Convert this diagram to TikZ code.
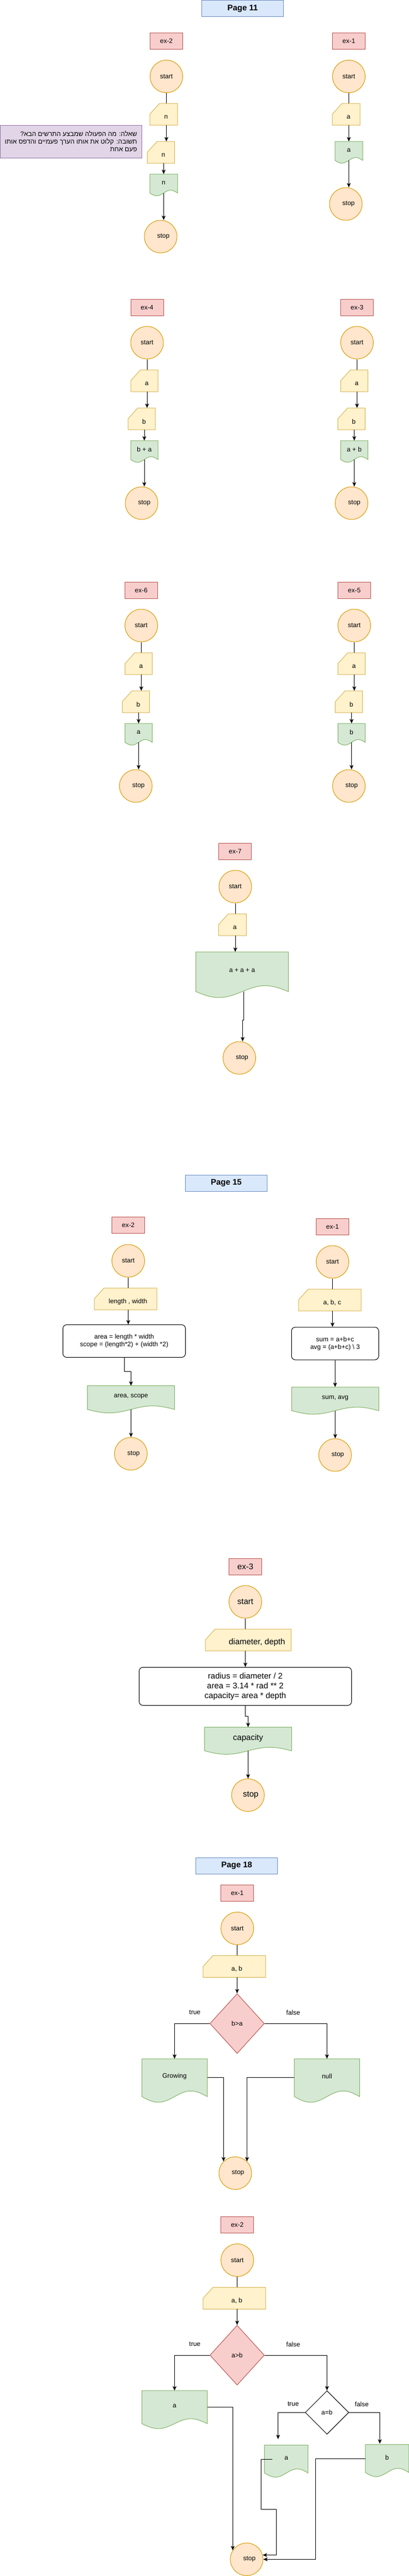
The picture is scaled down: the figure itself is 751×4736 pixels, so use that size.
\documentclass[tikz,border=0pt]{standalone}
\usepackage{fontspec}
\setmainfont{Liberation Sans}
\newfontfamily\hebfont[Script=Hebrew]{Liberation Sans}
\TeXXeTstate=1
\usetikzlibrary{shapes.geometric,arrows.meta}
\definecolor{orfill}{HTML}{FFE6CC}
\definecolor{orline}{HTML}{D79B00}
\definecolor{yefill}{HTML}{FFF2CC}
\definecolor{yeline}{HTML}{D6B656}
\definecolor{grfill}{HTML}{D5E8D4}
\definecolor{grline}{HTML}{82B366}
\definecolor{rdfill}{HTML}{F8CECC}
\definecolor{rdline}{HTML}{B85450}
\definecolor{blfill}{HTML}{DAE8FC}
\definecolor{blline}{HTML}{6C8EBF}
\definecolor{pufill}{HTML}{E1D5E7}
\definecolor{puline}{HTML}{9673A6}
\tikzset{
    term/.style={circle,draw=orline,fill=orfill,minimum size=60,inner sep=0},
    exbox/.style={draw=rdline,fill=rdfill,minimum width=60,minimum height=30,inner sep=0},
    pagebox/.style={draw=blline,fill=blfill,minimum width=150,minimum height=30,font=\bfseries\fontsize{15}{18}\selectfont},
    proc/.style={draw,rounded corners=7,fill=white,align=center,inner sep=0},
    cond/.style={diamond,draw=rdline,fill=rdfill,inner sep=0,minimum width=100,minimum height=110},
    qbox/.style={draw=puline,fill=pufill,align=right,minimum width=260.6,minimum height=60,inner sep=0},
    arr/.style={-{Stealth[length=8pt,width=7pt,inset=2pt]}}
}
%输入框：名称, 中心, 宽, 文字
\newcommand{\incard}[4]{%
    \node[minimum width=#3,minimum height=40,inner sep=0,outer sep=0] (#1) at (#2) {};
    \filldraw[draw=yeline,fill=yefill] (#1.south west) -- ([yshift=-20pt]#1.north west) -- ([xshift=18pt]#1.north west) -- (#1.north east) -- (#1.south east) -- cycle;
    \node (#1t) at ([xshift=4.5pt,yshift=-5pt]#1.center) {#4};
}
%输出框：名称, 上边中点, 宽, 高, 文字
\newcommand{\outdoc}[5]{%
    \node[minimum width=#3,minimum height={0.87*#4},inner sep=0,outer sep=0,anchor=north] (#1) at (#2) {};
    \filldraw[draw=grline,fill=grfill] (#1.south east) -- (#1.north east) -- (#1.north west) -- (#1.south west)
        sin ++({#3/4},{0.13*#4}) cos ++({#3/4},{-0.13*#4}) sin ++({#3/4},{-0.13*#4}) cos ++({#3/4},{0.13*#4}) -- cycle;
    \node (#1t) at ([yshift={-0.4*#4}]#1.north) {#5};
}
\begin{document}
\begin{tikzpicture}[x=1pt,y=-1pt,line width=1pt,font=\fontsize{12}{14}\selectfont]
    \useasboundingbox (0,0) rectangle (751,4736);
    %第11页
    \node[pagebox] (p11) at (445.5,15.5) {Page 11};
    \node[exbox] (e1) at (305.5,75) {ex-2};
    \node[term] (s1) at (305.5,140.5) {start};
    \incard{a1}{300.5,210}{51}{n}
    \incard{b1}{295.5,280}{50}{n}
    \outdoc{o1}{300.5,320}{51}{40}{n}
    \node[term] (z1) at (295,435) {\hspace*{10pt}stop};
    \draw (s1) -- (s1 |- a1.north);
    \draw[arr] (a1.south -| s1) -- (b1.north -| s1);
    \draw[arr] (b1.south -| o1) -- (o1.north);
    \draw[arr] (o1.south) -- (o1.south |- z1.north);
    \node[qbox] (q1) at (130.3,260) {\hebfont\beginR שאלה: מה הפעולה שמבצע התרשים הבא?\endR\\
        \hebfont\beginR תשובה: קלוט את אותו הערך פעמיים והדפס אותו\endR\\
        \hebfont\beginR פעם אחת\endR};

    \node[exbox] (e2) at (640.5,75) {ex-1};
    \node[term] (s2) at (640.5,140.5) {start};
    \incard{a2}{635.5,210}{51}{a}
    \outdoc{o2}{640.5,260}{51}{40}{a}
    \node[term] (z2) at (635,375) {\hspace*{10pt}stop};
    \draw (s2) -- (s2 |- a2.north);
    \draw[arr] (a2.south -| s2) -- (o2.north);
    \draw[arr] (o2.south) -- (o2.south |- z2.north);

    \node[exbox] (e3) at (270,565) {ex-4};
    \node[term] (s3) at (270,630) {start};
    \incard{a3}{265,700}{50}{a}
    \incard{b3}{260,770}{50}{b}
    \outdoc{o3}{265,810}{50}{40}{b + a}
    \node[term] (z3) at (260,925) {\hspace*{10pt}stop};
    \draw (s3) -- (s3 |- a3.north);
    \draw[arr] (a3.south -| s3) -- (b3.north -| s3);
    \draw[arr] (b3.south -| o3) -- (o3.north);
    \draw[arr] (o3.south) -- (o3.south |- z3.north);

    \node[exbox] (e4) at (655.5,565) {ex-3};
    \node[term] (s4) at (655.5,630) {start};
    \incard{a4}{650.5,700}{50}{a}
    \incard{b4}{645.3,770}{50}{b}
    \outdoc{o4}{650.5,810}{50}{40}{a + b}
    \node[term] (z4) at (645.5,925) {\hspace*{10pt}stop};
    \draw (s4) -- (s4 |- a4.north);
    \draw[arr] (a4.south -| s4) -- (b4.north -| s4);
    \draw[arr] (b4.south -| o4) -- (o4.north);
    \draw[arr] (o4.south) -- (o4.south |- z4.north);

    \node[exbox] (e5) at (259.4,1085) {ex-6};
    \node[term] (s5) at (259.4,1150) {start};
    \incard{a5}{254.5,1220}{50}{a}
    \incard{b5}{249.5,1290}{50}{b}
    \outdoc{o5}{254.5,1330}{50}{40}{a}
    \node[term] (z5) at (249.3,1445) {\hspace*{10pt}stop};
    \draw (s5) -- (s5 |- a5.north);
    \draw[arr] (a5.south -| s5) -- (b5.north -| s5);
    \draw[arr] (b5.south -| o5) -- (o5.north);
    \draw[arr] (o5.south) -- (o5.south |- z5.north);

    \node[exbox] (e6) at (650.5,1085) {ex-5};
    \node[term] (s6) at (650.5,1150) {start};
    \incard{a6}{645.5,1220}{50}{a}
    \incard{b6}{640.6,1290}{50}{b}
    \outdoc{o6}{645.5,1330}{50}{40}{b}
    \node[term] (z6) at (640.6,1445) {\hspace*{10pt}stop};
    \draw (s6) -- (s6 |- a6.north);
    \draw[arr] (a6.south -| s6) -- (b6.north -| s6);
    \draw[arr] (b6.south -| o6) -- (o6.north);
    \draw[arr] (o6.south) -- (o6.south |- z6.north);

    \node[exbox] (e7) at (431.8,1565) {ex-7};
    \node[term] (s7) at (432,1630) {start};
    \incard{a7}{426.8,1700}{51}{a}
    \outdoc{o7}{444.5,1750}{170}{84}{a + a + a}
    \node[term] (z7) at (439.5,1945) {\hspace*{10pt}stop};
    \draw (s7) -- (s7 |- a7.north);
    \draw[arr] (a7.south -| s7) -- (o7.north -| s7);
    \draw[arr] ([xshift=3pt]o7.south) -- ++(0,52) -| ([xshift=6pt]z7.north);

    %第15页
    \node[pagebox] (p15) at (415.5,2175) {Page 15};
    \node[exbox] (e8) at (235.5,2252.5) {ex-2};
    \node[term] (s8) at (235.5,2318) {start};
    \incard{a8}{230.5,2388}{115}{length , width}
    \node[proc,minimum width=225,minimum height=60] (r8) at (228,2465.5) {area = length * width\\scope = (length*2) + (width *2)};
    \outdoc{o8}{240.5,2547.7}{160}{50}{area, scope}
    \node[term] (z8) at (240.3,2672.7) {\hspace*{10pt}stop};
    \draw (s8) -- (s8 |- a8.north);
    \draw[arr] (a8.south -| s8) -- (r8.north -| s8);
    \draw[arr] (r8.south) -- ++(0,25) -| (o8.north);
    \draw[arr] (o8.south) -- (o8.south |- z8.north);

    \node[exbox] (e9) at (610.5,2255) {ex-1};
    \node[term] (s9) at (610.5,2320) {start};
    \incard{a9}{605.5,2390}{115}{a, b, c}
    \node[proc,minimum width=160,minimum height=60] (r9) at (615.3,2470) {sum = a+b+c\\avg = (a+b+c) \textbackslash{} 3};
    \outdoc{o9}{615.5,2550}{160}{50}{sum, avg}
    \node[term] (z9) at (615.3,2675) {\hspace*{10pt}stop};
    \draw (s9) -- (s9 |- a9.north);
    \draw[arr] (a9.south -| s9) -- (r9.north -| s9);
    \draw[arr] (r9.south) -- (r9.south |- o9.north);
    \draw[arr] (o9.south) -- (o9.south |- z9.north);

    \begin{scope}[font=\fontsize{15}{18}\selectfont]
    \node[exbox] (e10) at (450.5,2880.3) {ex-3};
    \node[term] (s10) at (450.5,2945) {start};
    \incard{a10}{455.8,3015}{157.6}{\hspace*{23pt}diameter, depth}
    \node[proc,minimum width=390,minimum height=70] (r10) at (450.5,3100.3) {radius = diameter / 2\\area = 3.14 * rad ** 2\\capacity= area * depth};
    \outdoc{o10}{455.5,3175.3}{160}{50}{capacity}
    \node[term] (z10) at (455.3,3300.3) {\hspace*{10pt}stop};
    \end{scope}
    \draw (s10) -- (s10 |- a10.north);
    \draw[arr] (a10.south -| s10) -- (r10.north -| s10);
    \draw[arr] (r10.south) -- ++(0,20) -| (o10.north);
    \draw[arr] (o10.south) -- (o10.south |- z10.north);

    %第18页
    \node[pagebox] (p18) at (434.7,3430.3) {Page 18};
    \node[exbox] (e11) at (435.7,3480.3) {ex-1};
    \node[term] (s11) at (435.7,3545.3) {start};
    \incard{a11}{430.4,3615.3}{115}{a, b}
    \node[cond] (d11) at (435.4,3720.3) {b>a};
    \node (t11) at (357.8,3699.7) {true};
    \node (f11) at (538.4,3699.7) {false};
    \outdoc{o11a}{320.5,3785}{120}{80}{Growing}
    \outdoc{o11b}{600.4,3785}{120}{80}{null}
    \node[term] (z11) at (432,3995.3) {\hspace*{10pt}stop};
    \draw (s11) -- (s11 |- a11.north);
    \draw[arr] (a11.south -| d11) -- (d11.north);
    \draw[arr] (d11.west) -| (o11a.north);
    \draw[arr] (d11.east) -| (o11b.north);
    \draw[arr] (o11a.east) -| (z11.north west);
    \draw[arr] (o11b.west) -| (z11.north east);

    \node[exbox] (e12) at (435.7,4090.3) {ex-2};
    \node[term] (s12) at (435.7,4155.3) {start};
    \incard{a12}{430.4,4225.3}{115}{a, b}
    \node[cond] (d12) at (435.4,4330) {a>b};
    \node (t12) at (357.8,4309.7) {true};
    \node (f12) at (538.4,4309.7) {false};
    \outdoc{o12a}{320.5,4395}{120}{70}{a}
    \node[diamond,draw,fill=white,inner sep=0,minimum width=80,minimum height=80] (d12b) at (600.4,4435.3) {a=b};
    \node (t12b) at (538.4,4419.7) {true};
    \node (f12b) at (664.4,4419.7) {false};
    \outdoc{o12b}{525.7,4495.3}{80}{59}{a}
    \outdoc{o12c}{710.8,4494.3}{80}{59}{b}
    \node[term] (z12) at (452.9,4705.3) {\hspace*{10pt}stop};
    \coordinate (c12a) at (510.6,4484.3);
    \coordinate (c12b) at (697.4,4492.7);
    \draw (s12) -- (s12 |- a12.north);
    \draw[arr] (a12.south -| d12) -- (d12.north);
    \draw[arr] (d12.west) -| (o12a.north);
    \draw[arr] (d12.east) -| (d12b.north);
    \draw[arr] (d12b.west) -| (c12a);
    \draw[arr] (d12b.east) -| (c12b);
    \draw[arr] (o12a.east) -| (z12.147);
    \draw[arr] ([xshift=14pt]o12b.west) -- ++(-20,0) -- ++(0,92) -- ++(28,0) |- (z12.15);
    \draw[arr] (o12c.west) -- ++(-91,0) |- (z12.east);
\end{tikzpicture}
\end{document}
